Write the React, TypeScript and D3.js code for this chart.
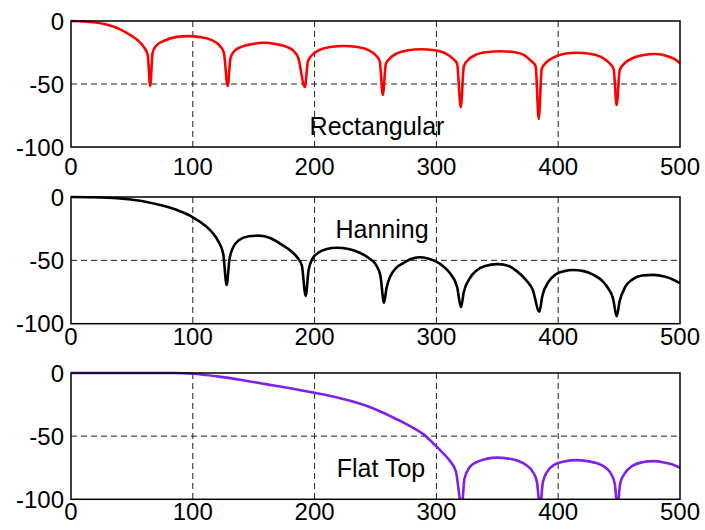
import React, { useEffect, useRef } from 'react'
import * as d3 from 'd3'

// frequency bins (x) and magnitude in dB (y)
const rectX = [0, 10, 20, 30, 40, 50, 55, 60, 63, 65,
	67, 70, 77, 86, 96, 106, 115, 121.5, 125.5, 128.6,
	131, 134, 140, 149, 158, 168, 177, 183, 186.5, 192,
	194.5, 198, 204, 213, 224, 235, 244, 250, 253.5, 256,
	258.5, 262, 268, 277, 287, 298, 307, 313, 317, 320,
	322.5, 326, 332, 341, 353, 364, 372, 377, 381.5, 384,
	386.5, 390, 396, 405, 415, 426, 435, 441, 445.5, 448,
	450.5, 454, 460, 469, 480, 490, 496, 500]
const rectDb = [0, -0.3, -1.2, -3, -6.5, -12, -15.5, -21, -27, -51.6,
	-25, -19.5, -15.5, -12.8, -12, -12.8, -15, -19, -25, -51.6,
	-29, -24, -20.5, -18.3, -17.3, -18.3, -20.5, -24, -29, -52.4,
	-32, -27, -23, -20.7, -19.8, -20.7, -23, -27, -32, -58.7,
	-34, -29.5, -25.5, -23.2, -22.4, -23.2, -25.5, -29.5, -34, -68.5,
	-36, -31, -27, -24.8, -24, -24.8, -27, -31, -36, -77.8,
	-38, -33, -29, -26, -25.2, -26, -28.5, -32.5, -38, -66.7,
	-39, -34, -30, -27.2, -26.2, -28, -30.5, -33.5]

const hannX = [0, 15, 30, 45, 60, 75, 90, 100, 110, 116, 121, 125, 127.8,
	130, 133, 138, 146, 154, 164, 172, 181, 186, 189.5, 192.7,
	195, 198, 203, 210, 218, 228, 237, 245, 250, 254, 257,
	259, 262, 267, 272.6, 279, 286, 293, 300, 306, 311, 317, 320.2,
	322.5, 327.5, 333, 340, 350, 358, 366, 374, 379, 384.5,
	387, 392, 398, 405, 412, 421, 429, 436, 441, 445, 448,
	450.5, 455, 461, 469, 478, 488, 495, 500]
const hannDb = [0, -0.2, -0.6, -1.6, -3.5, -6.8, -11.5, -16, -22.5, -28, -35, -45, -69.5,
	-50, -40, -34, -31, -30.5, -32.5, -37, -43, -48, -54, -78,
	-58, -49, -44, -41, -40, -41, -44, -48.5, -53, -62, -83.4,
	-72, -63, -56, -52.4, -49, -47.6, -48.5, -51, -55, -60, -71, -87,
	-75, -64, -58, -54.5, -53, -54, -58.5, -66, -73, -90.5,
	-78, -67, -61, -58.5, -57.6, -58.5, -61.5, -66, -72, -80, -94,
	-82, -71, -65, -62, -61.5, -63, -65.5, -68]

const flatX = [0, 30, 60, 85, 100, 120, 140, 160, 180, 200, 215, 230, 243, 254, 264, 273, 281, 290, 297.5, 304, 311, 316, 320.8,
	323, 327, 333, 341, 350, 359, 367, 374, 379, 382.5, 385,
	387.5, 391, 397, 405, 415, 424, 432, 439, 443.5, 446.5, 448.5,
	451, 455, 461, 469, 478, 487, 494, 500]
const flatDb = [0, 0, 0, 0, -0.6, -2.7, -5.5, -8.8, -12, -15.7, -18.6, -22.2, -26.2, -30.5, -35, -39.3, -43.5, -49, -55.8, -62, -69.5, -78, -106,
	-84, -75, -70.5, -68, -67, -67.8, -69.5, -73, -78, -86, -106,
	-86, -78, -72.5, -70, -69, -69.8, -71.5, -75, -80, -88, -106,
	-87, -79, -73.5, -70.7, -69.8, -70.8, -72.5, -75]

const xTicks = [0, 100, 200, 300, 400, 500]
const yTicks = [0, -50, -100]
const panelNames = ['Rectangular', 'Hanning', 'Flat Top']

export default function App () {
	const ref = useRef<SVGSVGElement>(null)

	useEffect(() => {
		const svg = d3.select(ref.current)
		svg.selectAll('*').remove()

		const left = 71
		const right = 680
		const panels = [
			{ top: 21, bottom: 147, xs: rectX, ys: rectDb, color: '#ff0000', name: panelNames[0], lx: 377, ly: 135, tickY: 175 },
			{ top: 197, bottom: 323.7, xs: hannX, ys: hannDb, color: '#000000', name: panelNames[1], lx: 382, ly: 238, tickY: 345 },
			{ top: 373, bottom: 499.3, xs: flatX, ys: flatDb, color: '#8020e8', name: panelNames[2], lx: 381, ly: 477, tickY: 520 }
		]

		const x = d3.scaleLinear().domain([0, 500]).range([left, right])

		panels.forEach((p, i) => {
			const y = d3.scaleLinear().domain([-100, 0]).range([p.bottom, p.top])
			const g = svg.append('g')

			// dashed grid
			g.selectAll('line.gx')
				.data(xTicks.slice(1, -1))
				.enter()
				.append('line')
					.attr('x1', d => x(d)).attr('x2', d => x(d))
					.attr('y1', p.top).attr('y2', p.bottom)
					.attr('stroke', '#222').attr('stroke-width', 1)
					.attr('stroke-dasharray', '6,4')
			g.selectAll('line.gy')
				.data([-50])
				.enter()
				.append('line')
					.attr('x1', left).attr('x2', right)
					.attr('y1', d => y(d)).attr('y2', d => y(d))
					.attr('stroke', '#222').attr('stroke-width', 1)
					.attr('stroke-dasharray', '6,4')

			g.append('clipPath').attr('id', 'clip' + i)
				.append('rect')
					.attr('x', left).attr('y', p.top - 2)
					.attr('width', right - left).attr('height', p.bottom - p.top + 2)

			const line = d3.line<number>()
				.x((d, j) => x(p.xs[j]))
				.y(d => y(d))
				.curve(d3.curveMonotoneX)

			g.append('path')
				.datum(p.ys)
				.attr('clip-path', `url(#clip${i})`)
				.attr('d', line)
				.attr('fill', 'none')
				.attr('stroke', p.color)
				.attr('stroke-width', 2.6)
				.attr('stroke-linejoin', 'round')

			g.append('rect')
				.attr('x', left).attr('y', p.top)
				.attr('width', right - left).attr('height', p.bottom - p.top)
				.attr('fill', 'none').attr('stroke', '#000').attr('stroke-width', 1.5)

			g.selectAll('text.xt')
				.data(xTicks)
				.enter()
				.append('text')
					.attr('x', d => x(d))
					.attr('y', p.tickY)
					.attr('text-anchor', 'middle')
					.text(d => d)

			g.selectAll('text.yt')
				.data(yTicks)
				.enter()
				.append('text')
					.attr('x', 64)
					.attr('y', d => y(d))
					.attr('dy', '0.36em')
					.attr('text-anchor', 'end')
					.text(d => d)

			g.append('text')
				.attr('x', p.lx).attr('y', p.ly)
				.attr('text-anchor', 'middle')
				.style('font-size', '25px')
				.text(p.name)
		})
	}, [])

	return (
		<svg
			ref={ref}
			width={705}
			height={530}
			style={{ position: 'absolute', left: 0, top: 0, background: '#fff', fontFamily: 'Arial, "Liberation Sans", sans-serif', fontSize: 24 }}
		/>
	)
}
